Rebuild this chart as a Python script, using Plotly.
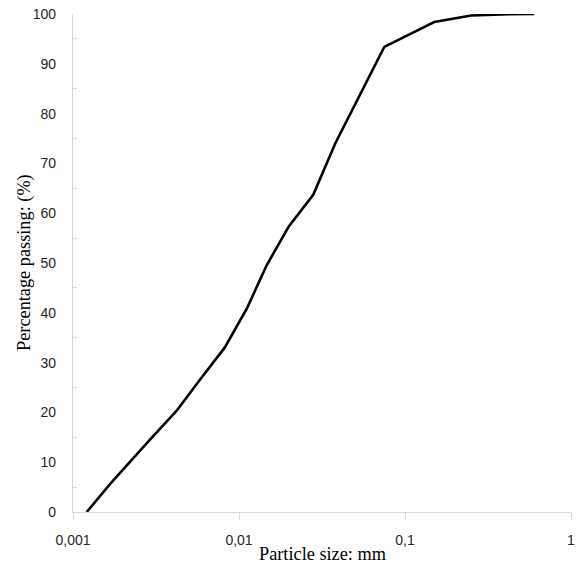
import plotly.graph_objects as go

particle_size_mm = [0.00121, 0.00167, 0.0029, 0.0042, 0.0058, 0.0082, 0.0112, 0.0147,
                    0.020, 0.028, 0.038, 0.051, 0.075, 0.15, 0.25, 0.425, 0.6]
percent_passing = [0, 5.6, 14.5, 20.3, 26.5, 33.0, 41.0, 49.6, 57.4, 63.7, 74.0,
                   82.3, 93.4, 98.4, 99.7, 99.95, 100]

x_tick_vals = [0.001, 0.01, 0.1, 1]
x_tick_text = ["0,001", "0,01", "0,1", "1"]
y_tick_vals = [0, 10, 20, 30, 40, 50, 60, 70, 80, 90, 100]
x_title = "Particle size: mm"
y_title = "Percentage passing: (%)"

fig = go.Figure()
fig.add_trace(go.Scatter(x=particle_size_mm, y=percent_passing, mode="lines",
                         line=dict(color="black", width=2.6), hoverinfo="skip"))

axis_gray = "#d9d9d9"
tick_font = dict(family="Liberation Sans, Arial, sans-serif", size=14, color="#262626")
title_font = dict(family="Liberation Serif, Times New Roman, serif", size=18.3, color="black")

fig.update_layout(
    width=582, height=569,
    margin=dict(l=73, r=11, t=14, b=57),
    plot_bgcolor="white", paper_bgcolor="white",
    showlegend=False,
    xaxis=dict(type="log", range=[-3, 0], tickvals=x_tick_vals, ticktext=x_tick_text,
               automargin=False,
               showgrid=False, zeroline=False, showline=True, linecolor=axis_gray, linewidth=1.3,
               ticks="outside", ticklen=7, tickcolor=axis_gray, tickwidth=1.3,
               tickfont=tick_font, ticklabelstandoff=8),
    yaxis=dict(range=[0, 100], tickvals=y_tick_vals, showgrid=False, zeroline=False,
               automargin=False,
               showline=True, linecolor=axis_gray, linewidth=1.3,
               ticks="", tickfont=tick_font, ticklabelstandoff=13,
               minor=dict(ticks="inside", ticklen=4, tickcolor=axis_gray, tickwidth=1.3,
                          tickvals=[5, 15, 25, 35, 45, 55, 65, 75, 85, 95])),
    annotations=[
        dict(text=x_title, xref="paper", yref="paper", x=0.502, y=-0.0843,
             xanchor="center", yanchor="middle", showarrow=False, font=title_font),
        dict(text=y_title, xref="paper", yref="paper", x=-0.0985, y=0.502,
             xanchor="center", yanchor="middle", textangle=-90, showarrow=False, font=title_font),
    ],
)

fig.write_html("out.html")
